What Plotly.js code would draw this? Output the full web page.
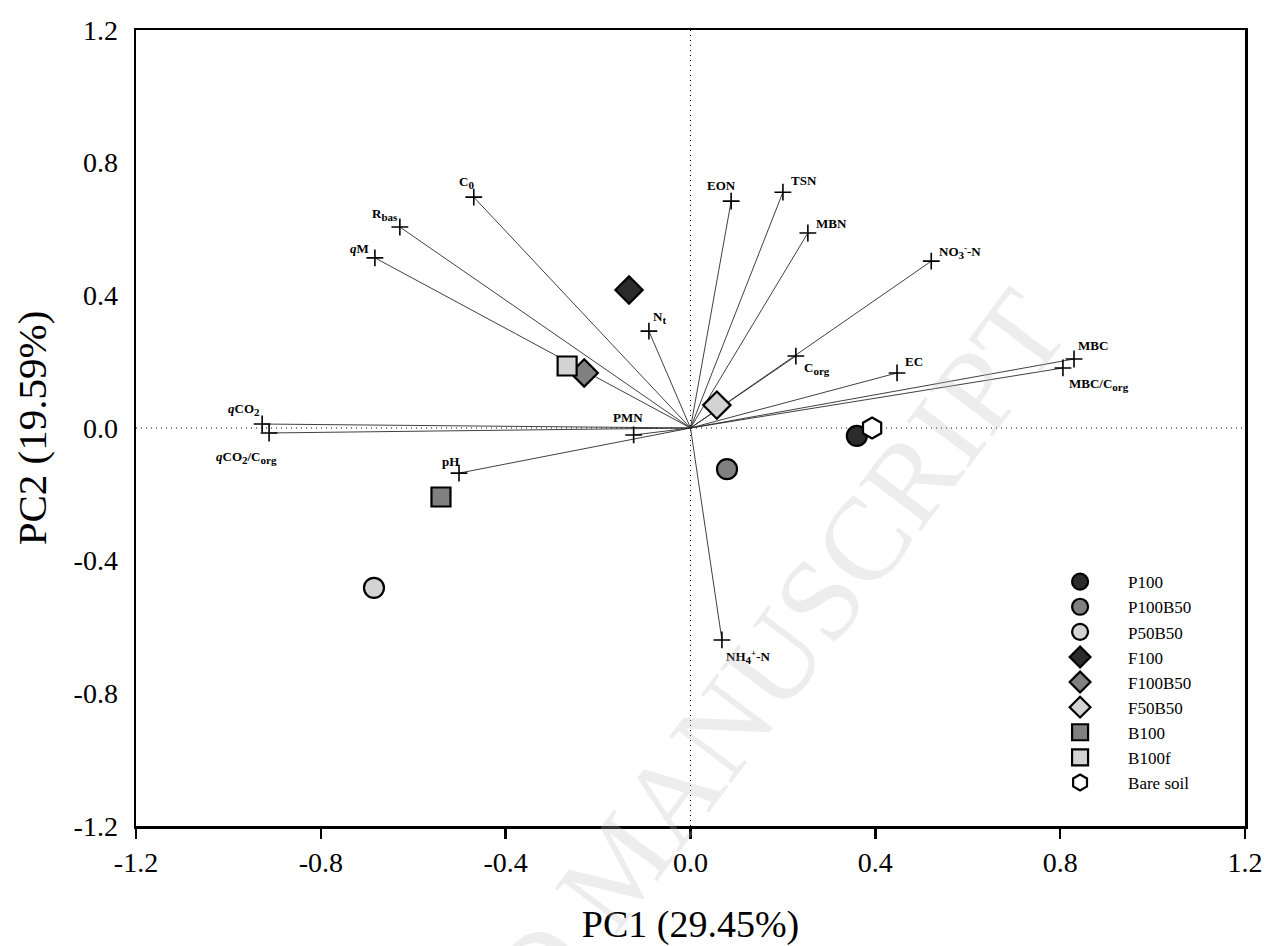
<!DOCTYPE html>
<html>
<head>
<meta charset="utf-8">
<script src="https://cdn.plot.ly/plotly-3.0.1.min.js"></script>
<style>html,body{margin:0;padding:0;background:#fff;}#chart{width:1269px;height:946px;}</style>
</head>
<body>
<div id="chart"></div>
<script>
// ---- Data: loading vectors ----
const varNames = ["C0", "Rbas", "qM", "Nt", "qCO2", "qCO2/Corg", "PMN", "pH",
  "EON", "TSN", "MBN", "NO3-N", "Corg", "EC", "MBC", "MBC/Corg", "NH4-N"];
const S = (t) => "<sub><span style=\"font-size:11px\">" + t + "</span></sub>";
const varLabels = ["C" + S("0"), "R" + S("bas"), "<i>q</i>M", "N" + S("t"),
  "<i>q</i>CO" + S("2"), "<i>q</i>CO" + S("2") + "/C" + S("org"), "PMN", "pH",
  "EON", "TSN", "MBN", "NO" + S("3") + "<sup>-</sup>-N", "C" + S("org"), "EC",
  "MBC", "MBC/C" + S("org"), "NH" + S("4") + "<sup>+</sup>-N"];
const varPC1 = [-0.469, -0.629, -0.683, -0.090, -0.927, -0.912, -0.123, -0.501,
  0.088, 0.200, 0.254, 0.521, 0.228, 0.447, 0.830, 0.806, 0.068];
const varPC2 = [0.696, 0.606, 0.513, 0.292, 0.012, -0.015, -0.021, -0.136,
  0.684, 0.711, 0.588, 0.503, 0.217, 0.166, 0.208, 0.181, -0.639];

// ---- Data: sample scores ----
const sampleNames = ["P100", "P100B50", "P50B50", "F100", "F100B50", "F50B50", "B100", "B100f", "Bare soil"];
const samplePC1 = [0.360, 0.079, -0.685, -0.133, -0.230, 0.057, -0.540, -0.267, 0.393];
const samplePC2 = [-0.024, -0.124, -0.482, 0.416, 0.166, 0.069, -0.208, 0.187, 0.000];

// ---- Axis ticks ----
const tickVals = [-1.2, -0.8, -0.4, 0.0, 0.4, 0.8, 1.2];
const tickText = ["-1.2", "-0.8", "-0.4", "0.0", "0.4", "0.8", "1.2"];

// ---- Styles (not data) ----
const sampleStyle = {
  "P100":      {symbol: "circle",  color: "#2b2b2b", size: 20},
  "P100B50":   {symbol: "circle",  color: "#808080", size: 20},
  "P50B50":    {symbol: "circle",  color: "#d3d3d3", size: 20},
  "F100":      {symbol: "diamond", color: "#2b2b2b", size: 21},
  "F100B50":   {symbol: "diamond", color: "#808080", size: 21},
  "F50B50":    {symbol: "diamond", color: "#d3d3d3", size: 21},
  "B100":      {symbol: "square",  color: "#808080", size: 19},
  "B100f":     {symbol: "square",  color: "#d3d3d3", size: 19},
  "Bare soil": {symbol: "hexagon", color: "#ffffff", size: 21}
};
// label placement: [xanchor, yanchor, xshift, yshift]
const labelPlace = {
  "C0": ["right", "bottom", 2, 4], "Rbas": ["right", "bottom", 0, 2], "qM": ["right", "bottom", -4, 0],
  "Nt": ["left", "bottom", 2, 3], "qCO2": ["right", "bottom", 0, 4], "qCO2/Corg": ["right", "top", 10, -14],
  "PMN": ["center", "bottom", -6, 8], "pH": ["right", "bottom", 2, 2], "EON": ["center", "bottom", -10, 6],
  "TSN": ["left", "bottom", 6, 2], "MBN": ["left", "bottom", 6, 0], "NO3-N": ["left", "bottom", 6, -2],
  "Corg": ["left", "top", 6, -2], "EC": ["left", "bottom", 6, 2], "MBC": ["left", "bottom", 2, 4],
  "MBC/Corg": ["left", "top", 4, -6], "NH4-N": ["left", "top", 2, -6]
};

const FONT = "Liberation Serif, Times New Roman, serif";

// vectors from origin
const vx = [], vy = [];
for (let i = 0; i < varPC1.length; i++) { vx.push(0, varPC1[i], null); vy.push(0, varPC2[i], null); }

const traces = [];
traces.push({
  x: vx, y: vy, mode: "lines", type: "scatter", showlegend: false, hoverinfo: "skip",
  line: {color: "#2a2a2a", width: 0.9}
});
traces.push({
  x: varPC1, y: varPC2, text: varNames, mode: "markers", type: "scatter", showlegend: false,
  marker: {symbol: "cross-thin", size: 12, line: {color: "#000", width: 1.6}}
});
sampleNames.forEach((n, i) => {
  const s = sampleStyle[n];
  traces.push({
    x: [samplePC1[i]], y: [samplePC2[i]], name: n, mode: "markers", type: "scatter",
    marker: {symbol: s.symbol, size: s.size, color: s.color, line: {color: "#000", width: 2.2}}
  });
});

const annotations = varNames.map((n, i) => {
  const p = labelPlace[n];
  return {x: varPC1[i], y: varPC2[i], xref: "x", yref: "y", text: "<b>" + varLabels[i] + "</b>",
    showarrow: false, xanchor: p[0], yanchor: p[1], xshift: p[2], yshift: p[3],
    font: {family: FONT, size: 13, color: "#000"}};
});
// watermark
annotations.push({
  xref: "paper", yref: "paper", x: 0.436, y: -0.05, xanchor: "center", yanchor: "middle",
  text: "ACCEPTED MANUSCRIPT",
  showarrow: false, textangle: -53, font: {family: FONT, size: 118, color: "rgba(190,190,190,0.28)"}
});

const layout = {
  width: 1269, height: 946,
  margin: {l: 136, r: 24, t: 30, b: 120},
  paper_bgcolor: "#fff", plot_bgcolor: "#fff",
  font: {family: FONT, color: "#000"},
  xaxis: {
    range: [-1.2, 1.2], tickvals: tickVals, ticktext: tickText, showgrid: false, zeroline: false,
    showline: true, linecolor: "#000", linewidth: 2.5, mirror: true,
    ticks: "outside", ticklen: 10, tickwidth: 2.5, tickcolor: "#000",
    tickfont: {family: FONT, size: 28}, title: {text: "PC1 (29.45%)", font: {family: FONT, size: 38}, standoff: 40}
  },
  yaxis: {
    range: [-1.2, 1.2], tickvals: tickVals, ticktext: tickText, showgrid: false, zeroline: false,
    showline: true, linecolor: "#000", linewidth: 2.5, mirror: true,
    ticks: "", ticklabelstandoff: 10,
    tickfont: {family: FONT, size: 28}, title: {text: "PC2 (19.59%)", font: {family: FONT, size: 41}, standoff: 14}
  },
  shapes: [
    {type: "line", xref: "x", yref: "y", x0: 0, x1: 0, y0: -1.2, y1: 1.2, line: {color: "#000", width: 1, dash: "1px,4px"}, layer: "below"},
    {type: "line", xref: "x", yref: "y", x0: -1.2, x1: 1.2, y0: 0, y1: 0, line: {color: "#000", width: 1, dash: "1px,4px"}, layer: "below"}
  ],
  annotations: annotations,
  legend: {
    x: 0.808, y: 0.329, xanchor: "left", yanchor: "top", bgcolor: "rgba(0,0,0,0)",
    font: {family: FONT, size: 17}, itemwidth: 86, tracegroupgap: 0
  },
  showlegend: true
};

Plotly.newPlot("chart", traces, layout, {displayModeBar: false, staticPlot: true});
</script>
</body>
</html>
